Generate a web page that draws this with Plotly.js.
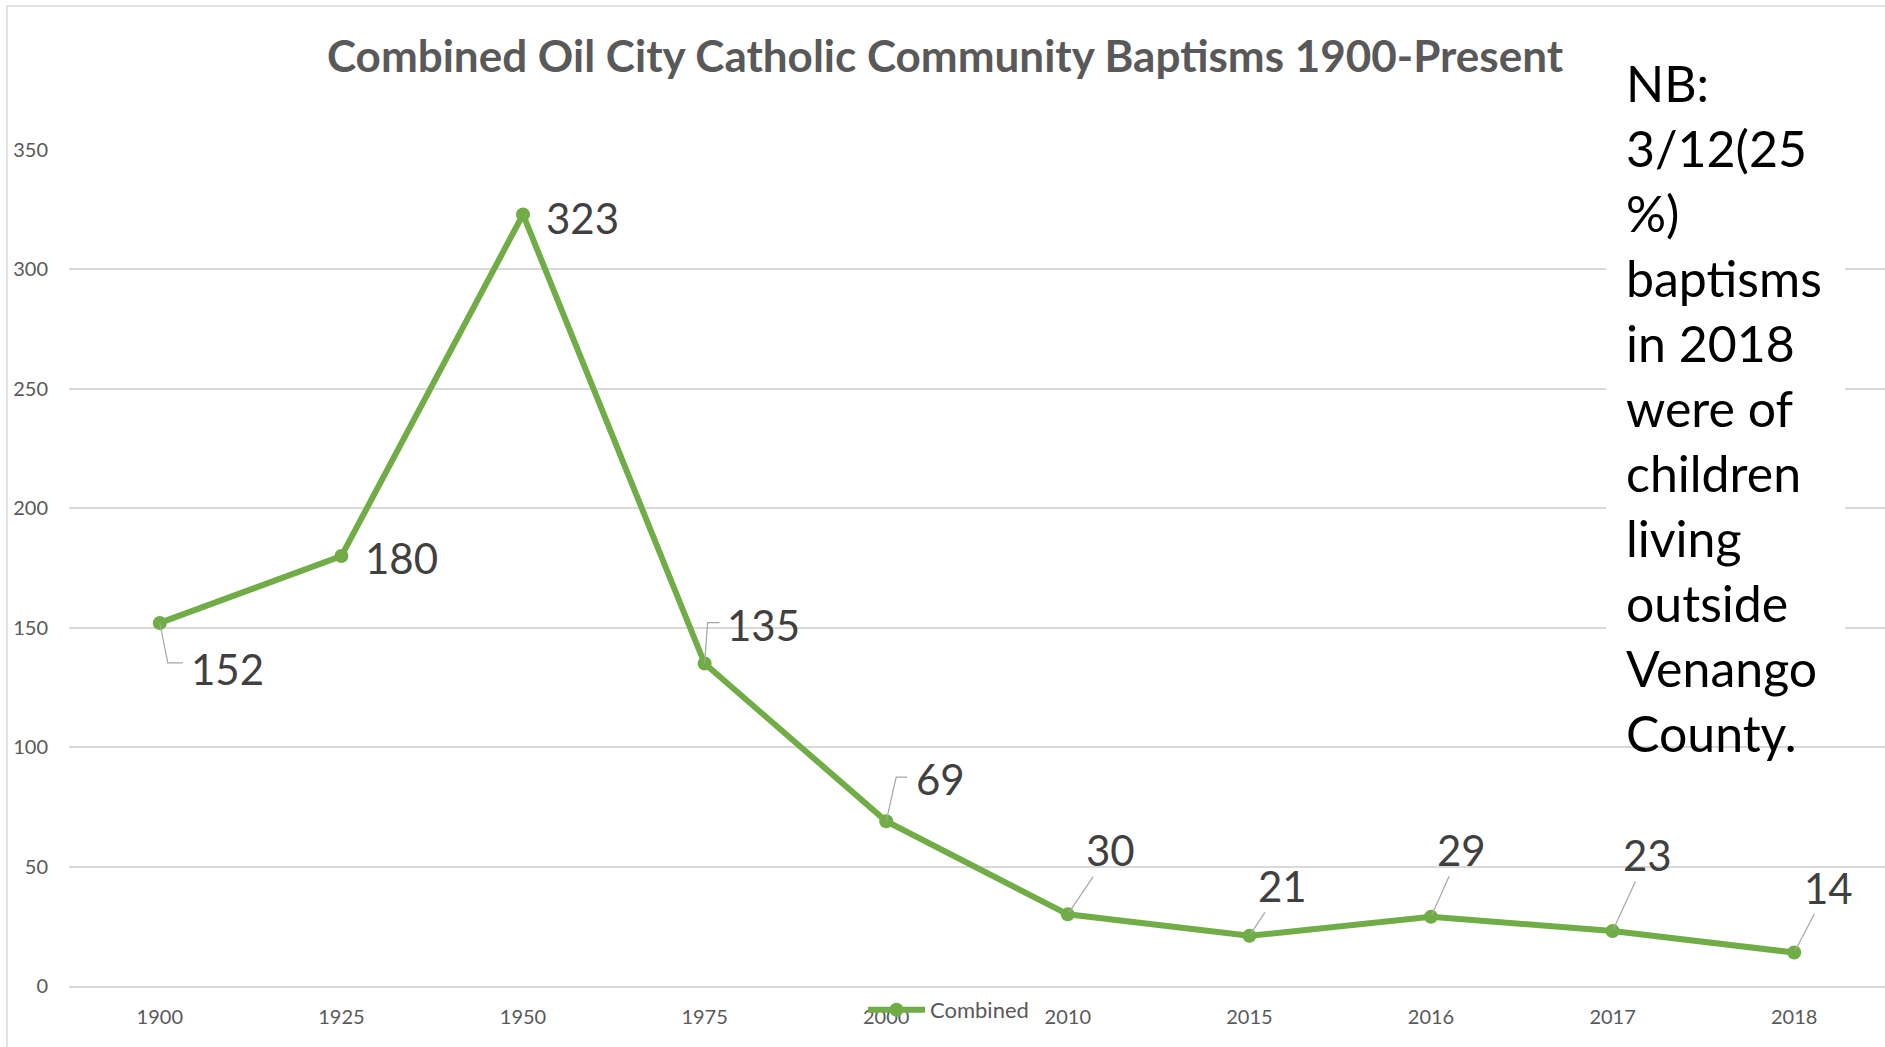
<!DOCTYPE html>
<html>
<head>
<meta charset="utf-8">
<script src="https://cdn.plot.ly/plotly-3.0.1.min.js"></script>
<style>
  html, body { margin: 0; padding: 0; background: #ffffff; }
  #chart { width: 1885px; height: 1047px; }
</style>
</head>
<body>
<div id="chart"></div>
<script>
// ---- data ----
const years = ['1900', '1925', '1950', '1975', '2000', '2010', '2015', '2016', '2017', '2018'];
const baptisms = [152, 180, 323, 135, 69, 30, 21, 29, 23, 14];
const seriesName = 'Combined';
const chartTitle = 'Combined Oil City Catholic Community Baptisms 1900-Present';
const noteLines = ['NB:', '3/12(25', '%)', 'baptisms', 'in 2018', 'were of', 'children', 'living', 'outside', 'Venango', 'County.'];

// label styling: text-centre offset in pixels and leader style ('none', 'straight', or elbow [dx, dy, len])
const labelOffsets = [
  [68, 46, [8, -40, 15]], [60, 2, 'none'], [59, 4, 'none'], [59, -39, [3, 41, 12]], [54, -42, [10, 44, 11]],
  [43, -64, 'straight'], [33, -50, 'straight'], [30, -67, 'straight'], [35, -76, 'straight'], [34, -65, 'straight']
];

// ---- geometry helpers (pixel -> paper) ----
const W = 1885, H = 1047;
const M = { l: 69, r: 0, t: 150, b: 61 };
const PW = W - M.l - M.r, PH = H - M.t - M.b;
const px = X => (X - M.l) / PW;
const py = Y => (H - M.b - Y) / PH;

const FONT = 'Lato, "Open Sans", sans-serif';
const LEADER = '#a6a6a6';

const trace = {
  type: 'scatter',
  mode: 'lines+markers',
  name: seriesName,
  x: years,
  y: baptisms,
  line: { color: '#70AD47', width: 6 },
  marker: { color: '#70AD47', size: 14 },
  cliponaxis: false,
  hoverinfo: 'x+y'
};

// category axis: annotations/shapes are placed by the category index of each data point
const annotations = baptisms.map((v, i) => {
  const st = labelOffsets[i][2];
  return {
    x: years.indexOf(years[i]), y: v, xref: 'x', yref: 'y',
    text: String(v),
    showarrow: true,
    arrowhead: 0,
    arrowwidth: 1.2,
    arrowcolor: st === 'straight' ? LEADER : 'rgba(0,0,0,0)',
    standoff: 2,
    ax: labelOffsets[i][0], ay: labelOffsets[i][1],
    font: { family: FONT, size: 42, color: '#404040' }
  };
});

annotations.push({
  xref: 'paper', yref: 'paper',
  x: px(1624), y: py(408),
  xanchor: 'left', yanchor: 'middle', align: 'left',
  showarrow: false,
  text: noteLines.join('<br>'),
  font: { family: FONT, size: 50, color: '#000000' }
});

// elbow leader lines anchored at the data points
const leaderShapes = [];
baptisms.forEach((v, i) => {
  const st = labelOffsets[i][2];
  if (Array.isArray(st)) {
    const [dx, dy, len] = st;
    leaderShapes.push({
      type: 'path', xref: 'x', yref: 'y', layer: 'above',
      xsizemode: 'pixel', ysizemode: 'pixel',
      xanchor: years.indexOf(years[i]), yanchor: v,
      path: `M 0 0 L ${dx} ${dy} L ${dx + len} ${dy}`,
      line: { color: LEADER, width: 1.2 }
    });
  }
});

const layout = {
  width: W, height: H,
  margin: M,
  paper_bgcolor: '#ffffff',
  plot_bgcolor: '#ffffff',
  font: { family: FONT, color: '#595959' },
  title: {
    text: '<b>' + chartTitle + '</b>',
    font: { family: FONT, size: 44, color: '#595959' },
    xref: 'container', yref: 'container',
    x: 945 / W, y: 1 - 57 / H, xanchor: 'center', yanchor: 'middle'
  },
  xaxis: {
    type: 'category',
    range: [-0.5, 9.5],
    showgrid: false,
    showline: true, linecolor: '#d9d9d9', linewidth: 1.5,
    ticks: '',
    zeroline: false,
    tickfont: { family: FONT, size: 20, color: '#595959' },
    ticklabelstandoff: 12
  },
  yaxis: {
    range: [0, 350],
    dtick: 50,
    showgrid: true, gridcolor: '#d9d9d9', gridwidth: 1.5,
    zeroline: false, showline: false,
    ticks: '',
    tickfont: { family: FONT, size: 20, color: '#595959' },
    ticklabelstandoff: 20
  },
  showlegend: true,
  legend: {
    orientation: 'h',
    x: px(863), y: py(1010), xanchor: 'left', yanchor: 'middle',
    itemwidth: 57,
    bgcolor: 'rgba(0,0,0,0)',
    font: { family: FONT, size: 22, color: '#595959' }
  },
  shapes: [
    { type: 'rect', xref: 'paper', yref: 'paper', layer: 'above',
      x0: px(1606), x1: px(1845), y0: py(700), y1: py(40),
      fillcolor: '#ffffff', line: { width: 0 } },
    { type: 'rect', xref: 'paper', yref: 'paper', layer: 'below',
      x0: px(7), x1: px(1900), y0: py(1080), y1: py(6),
      fillcolor: 'rgba(0,0,0,0)', line: { color: '#d9d9d9', width: 1.5 } }
  ].concat(leaderShapes),
  annotations: annotations
};

Plotly.newPlot('chart', [trace], layout, { displayModeBar: false });
</script>
</body>
</html>
